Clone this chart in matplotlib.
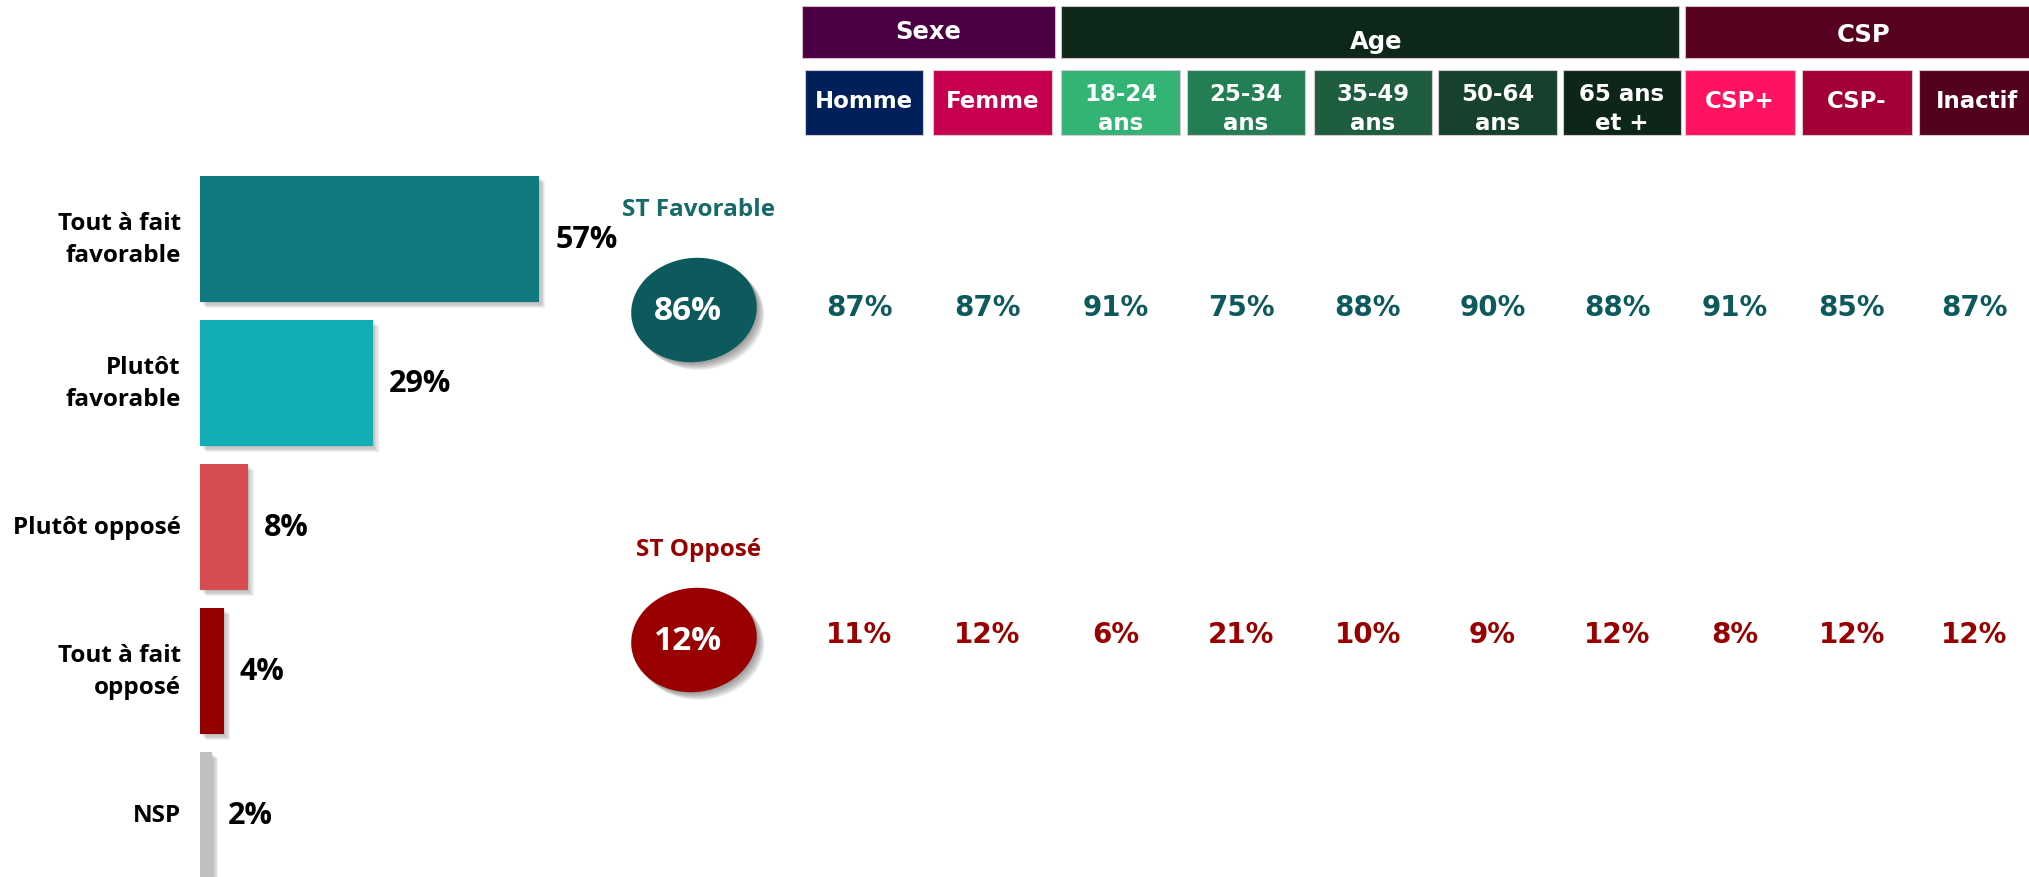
import matplotlib
matplotlib.use("Agg")
import matplotlib.pyplot as plt
from matplotlib.patches import Rectangle, Ellipse
import matplotlib.patheffects as pe

# ---------------- data ----------------
categories = ["Tout à fait\nfavorable", "Plutôt\nfavorable", "Plutôt opposé",
              "Tout à fait\nopposé", "NSP"]
values = [57, 29, 8, 4, 2]

groups = ["Sexe", "Age", "CSP"]
subgroups = ["Homme", "Femme", "18-24\nans", "25-34\nans", "35-49\nans",
             "50-64\nans", "65 ans\net +", "CSP+", "CSP-", "Inactif"]
fav_label = "ST Favorable"
opp_label = "ST Opposé"
fav_total = 86
opp_total = 12
fav_values = [87, 87, 91, 75, 88, 90, 88, 91, 85, 87]
opp_values = [11, 12, 6, 21, 10, 9, 12, 8, 12, 12]

# ---------------- styles / layout ----------------
W, H = 2029, 878
bar_colors = ["#107A80", "#13AEB5", "#D64C50", "#960000", "#C0C0C0"]
group_colors = ["#4A0042", "#0D2818", "#570020"]
sub_colors = ["#00205B", "#C6004F", "#33B374", "#237E53", "#1E5E3F",
              "#15412D", "#0D2619", "#FF1361", "#A30035", "#54001F"]
group_boxes = [(802, 1055), (1061, 1679), (1685, 2040)]
group_text_x = [928, 1376, 1864]
group_text_y = [32, 42, 35]
sub_boxes = [(805, 923), (933, 1052), (1061, 1180), (1187, 1305), (1314, 1432),
             (1438, 1557), (1563, 1681), (1685, 1795), (1802, 1912), (1919, 2040)]
teal = "#0D5A5C"
red = "#990000"

CAL = ["Open Sans", "DejaVu Sans"]
TAH = ["DejaVu Sans"]


def soft_shadow(strength=0.09, n=5):
    effs = []
    for k in range(1, n + 1):
        effs.append(pe.SimplePatchShadow(offset=(k * 0.9, -k * 0.9),
                                          shadow_rgbFace="#555555", alpha=strength))
    effs.append(pe.Normal())
    return effs


fig = plt.figure(figsize=(W / 100, H / 100), dpi=100)
fig.patch.set_facecolor("white")

# ---------------- bar chart ----------------
px_per_pct = 5.95
bar_left_px, bar_w_px = 200, 580
axb = fig.add_axes([bar_left_px / W, 0, bar_w_px / W, 1])
axb.set_xlim(0, bar_w_px / px_per_pct)
pitch, first_c = 144.0, 240.0
axb.set_ylim((H - first_c) / pitch, -first_c / pitch)
axb.axis("off")
ypos = list(range(len(values)))
bars = axb.barh(ypos, values, height=0.875, color=bar_colors, zorder=3)
for b in bars:
    b.set_path_effects(soft_shadow())
for y, v, c in zip(ypos, values, categories):
    axb.text(v + 16 / px_per_pct, y, f"{v}%", ha="left", va="center",
             fontsize=22, fontweight="bold", family=CAL, color="black")
    axb.text(-19 / px_per_pct, y, c, ha="right", va="center", fontsize=17.5,
             fontweight="bold", family=CAL, color="black", linespacing=1.4,
             clip_on=False)

# ---------------- overlay (pixel coordinates) ----------------
ax = fig.add_axes([0, 0, 1, 1], facecolor="none")
ax.set_xlim(0, W)
ax.set_ylim(H, 0)
ax.axis("off")

for (x0, x1), col, name, tx, ty in zip(group_boxes, group_colors, groups,
                                       group_text_x, group_text_y):
    ax.add_patch(Rectangle((x0, 7), x1 - x0, 52, facecolor=col,
                           edgecolor="#D9B8CC", linewidth=0.8))
    ax.text(tx, ty, name, ha="center", va="center", color="white", fontsize=17.5,
            fontweight="bold", family=TAH)

centers = []
for (x0, x1), col, name in zip(sub_boxes, sub_colors, subgroups):
    ax.add_patch(Rectangle((x0, 71), x1 - x0, 65, facecolor=col,
                           edgecolor="#D9C8D0", linewidth=0.8))
    cx = (x0 + x1) / 2
    centers.append(cx)
    tx = cx if x1 <= W else (x0 + W) / 2 + 3
    ax.text(tx, 109 if "\n" in name else 101, name, ha="center", va="center",
            color="white", fontsize=16.5, fontweight="bold", family=TAH,
            linespacing=1.35)

# Totals ellipses
for cy, tot, col, lab, ly in [(311, fav_total, teal, fav_label, 210),
                              (641, opp_total, red, opp_label, 550)]:
    e = Ellipse((694, cy), 126, 104, angle=-8, facecolor=col, edgecolor="none")
    e.set_path_effects(soft_shadow(0.12, 6))
    ax.add_patch(e)
    ax.text(688, cy + 1, f"{tot}%", ha="center", va="center", color="white",
            fontsize=24, fontweight="bold", family=CAL)
    ax.text(699, ly, lab, ha="center", va="center",
            color=("#176A69" if col == teal else red),
            fontsize=17.5, fontweight="bold", family=CAL)

for cx, fv, ov in zip(centers, fav_values, opp_values):
    cx = min(cx - 5, 1981)
    ax.text(cx, 308, f"{fv}%", ha="center", va="center", color=teal,
            fontsize=20, fontweight="bold", family=TAH)
    ax.text(cx, 635, f"{ov}%", ha="center", va="center", color=red,
            fontsize=20, fontweight="bold", family=TAH)

fig.savefig("out.png", dpi=100, facecolor="white")
